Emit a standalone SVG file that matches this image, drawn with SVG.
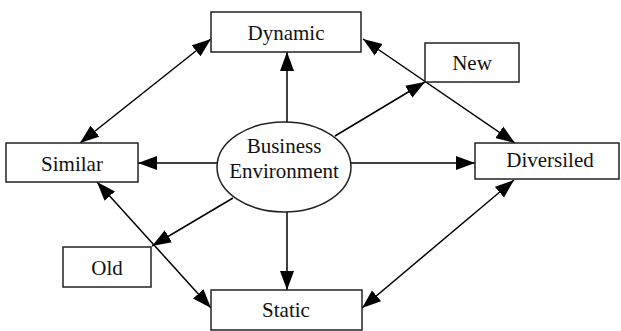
<svg xmlns="http://www.w3.org/2000/svg" width="621" height="331" viewBox="0 0 621 331">
<style>
.box{fill:#fff;stroke:#222;stroke-width:1.5}
.lbl{font-family:"Liberation Serif","DejaVu Serif",serif;font-size:21px;fill:#111;text-anchor:middle}
.c{stroke:#000;stroke-width:1.5;fill:none}
.e{marker-end:url(#ah)}
.b{marker-start:url(#ah);marker-end:url(#ah)}
</style>
<defs>
<marker id="ah" markerUnits="userSpaceOnUse" markerWidth="20" markerHeight="15" refX="19" refY="7.5" orient="auto-start-reverse" viewBox="0 0 20 15">
<path d="M0,0.5 L19,7.5 L0,14.5 z" fill="#000"/>
</marker>
</defs>
<rect width="621" height="331" fill="#fff"/>
<g id="connectors">
<line class="c e" x1="287" y1="122" x2="287" y2="52"/>
<line class="c e" x1="217" y1="163" x2="138" y2="163"/>
<line class="c e" x1="350" y1="163" x2="475" y2="163"/>
<line class="c e" x1="287" y1="212" x2="287" y2="290"/>
<line class="c e" x1="335" y1="136" x2="425" y2="82"/>
<line class="c e" x1="233" y1="198" x2="152" y2="246"/>
<line class="c b" x1="211" y1="39" x2="80" y2="143"/>
<line class="c b" x1="363" y1="39" x2="515" y2="143"/>
<line class="c b" x1="97" y1="182" x2="211" y2="308"/>
<line class="c b" x1="514" y1="180" x2="362" y2="308"/>
</g>
<g id="dynamic"><rect class="box" x="211" y="12" width="150" height="40"/><text class="lbl" x="286" y="40">Dynamic</text></g>
<g id="new"><rect class="box" x="425" y="43" width="94" height="39"/><text class="lbl" x="472" y="70">New</text></g>
<g id="similar"><rect class="box" x="6" y="143" width="132" height="39"/><text class="lbl" x="72" y="171">Similar</text></g>
<g id="diversiled"><rect class="box" x="475" y="143" width="144" height="36"/><text class="lbl" x="550" y="167">Diversiled</text></g>
<g id="old"><rect class="box" x="63" y="247" width="88" height="40"/><text class="lbl" x="107" y="275">Old</text></g>
<g id="static"><rect class="box" x="211" y="290" width="151" height="40"/><text class="lbl" x="286" y="317">Static</text></g>
<g id="business-environment"><ellipse class="box" cx="284" cy="167" rx="67" ry="45"/><text class="lbl" x="284" y="153">Business</text><text class="lbl" x="284" y="178">Environment</text></g>
</svg>
